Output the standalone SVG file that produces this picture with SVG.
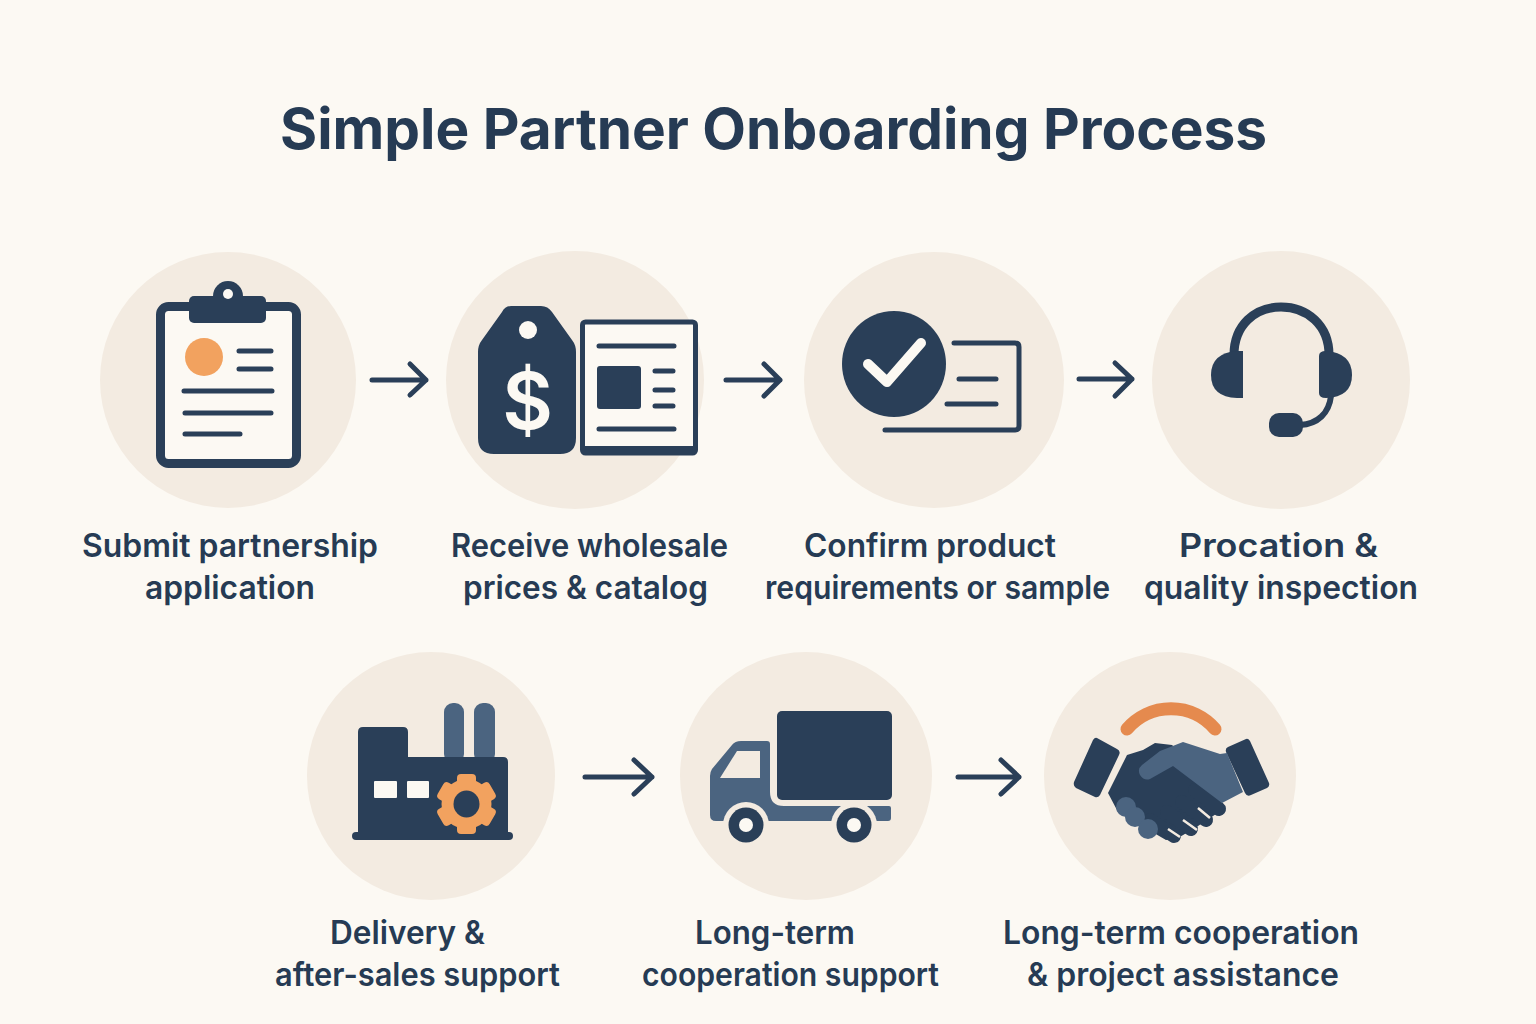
<svg xmlns="http://www.w3.org/2000/svg" width="1536" height="1024" viewBox="0 0 1536 1024">
<style>
.bg{fill:#f3ebe1}
.d{fill:#2a3f58}
.m{fill:#4b6480}
.o{fill:#f2a25f}
.c{fill:#fcf9f3}
.ln{fill:none;stroke:#2a3f58;stroke-width:5;stroke-linecap:round;stroke-linejoin:round}
.arrow{fill:none;stroke:#2a3f58;stroke-width:5;stroke-linecap:round;stroke-linejoin:round}
.t{font-family:Inter,"Liberation Sans",sans-serif;font-size:32px;font-weight:600;fill:#263b54}
.title{font-family:Inter,"Liberation Sans",sans-serif;font-size:56px;font-weight:700;fill:#263b54}
</style>
<rect width="1536" height="1024" fill="#fcf9f3"/>
<text id="title" class="title" x="280" y="149" textLength="987" lengthAdjust="spacingAndGlyphs">Simple Partner Onboarding Process</text>

<g id="connectors">
<path class="arrow" d="M372 380H426M410 364L426 380L410 395"/>
<path class="arrow" d="M726 380H780M764 364L780 380L764 396"/>
<path class="arrow" d="M1079 379H1132M1115 363L1132 379L1115 396"/>
<path class="arrow" d="M585 777H652M634 760L652 777L634 794"/>
<path class="arrow" d="M958 777H1019M1001 760L1019 777L1001 794"/>
</g>

<g id="node1">
<circle class="bg" cx="228" cy="380" r="128"/>
<rect x="160.500" y="306.500" width="136" height="157" rx="8" fill="#fcf9f3" stroke="#2a3f58" stroke-width="9"/>
<circle class="d" cx="228" cy="296" r="15"/>
<rect class="d" x="189" y="296" width="77" height="27" rx="5"/>
<ellipse class="c" cx="228" cy="294" rx="5" ry="5"/>
<circle class="o" cx="204" cy="357" r="19"/>
<path class="ln" d="M239 351H271M239 369H271M184 391H272M185 413H271M185 434H240"/>
<text class="t" x="82" y="557" textLength="296" lengthAdjust="spacingAndGlyphs">Submit partnership</text>
<text class="t" x="145" y="599" textLength="170" lengthAdjust="spacingAndGlyphs">application</text>
</g>

<g id="node2">
<circle class="bg" cx="575" cy="380" r="129"/>
<path class="d" d="M511 306H541Q548 306 552 312L572 340Q576 345 576 352V438Q576 454 560 454H494Q478 454 478 438V352Q478 345 482 340L502 312Q505 306 511 306Z"/>
<circle class="c" cx="528" cy="330" r="9"/>
<text x="527.500" y="429" text-anchor="middle" style="font-family:Inter,'Liberation Sans',sans-serif;font-size:78px;font-weight:600" fill="#fcf9f3">$</text>
<rect x="582.500" y="322" width="113" height="131" rx="3" fill="#fcf9f3" stroke="#2a3f58" stroke-width="5"/>
<path d="M695 330V452" stroke="#2a3f58" stroke-width="4" fill="none"/>
<rect x="583" y="446" width="113" height="8" class="d"/>
<path class="ln" d="M599 346H674M655 371H673M655 390H673M655 406H673M599 429H674"/>
<rect class="d" x="597" y="366" width="44" height="43" rx="3"/>
<text class="t" x="451" y="557" textLength="277" lengthAdjust="spacingAndGlyphs">Receive wholesale</text>
<text class="t" x="463" y="599" textLength="245" lengthAdjust="spacingAndGlyphs">prices &amp; catalog</text>
</g>

<g id="node3">
<ellipse class="bg" cx="934" cy="380" rx="130" ry="128"/>
<ellipse class="d" cx="894" cy="364" rx="52" ry="53"/>
<path d="M868 364L887 382L921 343" fill="none" stroke="#fcf9f3" stroke-width="10" stroke-linecap="round" stroke-linejoin="round"/>
<path class="ln" d="M954 343H1015Q1019 343 1019 347V426Q1019 430 1015 430H885M959 379H996M947 404H996"/>
<text class="t" x="804" y="557" textLength="252" lengthAdjust="spacingAndGlyphs">Confirm product</text>
<text class="t" x="765" y="599" textLength="345" lengthAdjust="spacingAndGlyphs">requirements or sample</text>
</g>

<g id="node4">
<circle class="bg" cx="1281" cy="380" r="129"/>
<path d="M1234 355C1234 325 1255 307 1281 307C1307 307 1329 325 1329 355" fill="none" stroke="#2a3f58" stroke-width="9"/>
<path d="M1237 351H1243V398H1237Q1211 397 1211 375Q1211 353 1237 351Z" class="d"/>
<path d="M1319 356Q1319 351 1326 351Q1352 353 1352 375Q1352 397 1326 398Q1319 398 1319 393Z" class="d"/>
<path d="M1331 396C1329 413 1318 424 1300 425" fill="none" stroke="#2a3f58" stroke-width="6"/>
<rect class="d" x="1269" y="413" width="34" height="24" rx="10"/>
<text class="t" x="1179" y="557" textLength="199" lengthAdjust="spacingAndGlyphs">Procation &amp;</text>
<text class="t" x="1144" y="599" textLength="274" lengthAdjust="spacingAndGlyphs">quality inspection</text>
</g>

<g id="node5">
<ellipse class="bg" cx="431" cy="776" rx="124" ry="124"/>
<rect class="m" x="444" y="703" width="20" height="60" rx="9"/>
<rect class="m" x="474" y="703" width="21" height="60" rx="9"/>
<path class="d" d="M358 840V732Q358 727 363 727H403Q408 727 408 732V757H503Q508 757 508 762V840Z"/>
<rect class="d" x="352" y="832" width="161" height="8" rx="4"/>
<rect class="c" x="374" y="781" width="23" height="17" rx="1"/>
<rect class="c" x="407" y="781" width="22" height="17" rx="1"/>
<g class="o">
<circle cx="466.500" cy="804" r="25"/>
<rect x="457" y="774" width="19" height="60" rx="4"/>
<rect x="457" y="774" width="19" height="60" rx="4" transform="rotate(60 466.500 804)"/>
<rect x="457" y="774" width="19" height="60" rx="4" transform="rotate(120 466.500 804)"/>
</g>
<ellipse class="d" cx="466.500" cy="804" rx="13" ry="13.500"/>
<text class="t" x="330" y="944" textLength="155" lengthAdjust="spacingAndGlyphs">Delivery &amp;</text>
<text class="t" x="275" y="986" textLength="285" lengthAdjust="spacingAndGlyphs">after-sales support</text>
</g>

<g id="node6">
<ellipse class="bg" cx="806" cy="776" rx="126" ry="124"/>
<path class="m" d="M710 776Q710 772 712 769L732 745Q735 741 741 741H767Q770 741 770 744V792Q770 806 784 806H889Q891 806 891 808V818Q891 821 888 821H716Q710 821 710 815Z"/>
<path fill="#f3ebe1" d="M737 751H760V778H720Z"/>
<rect class="d" x="777" y="711" width="115" height="89" rx="5"/>
<circle class="bg" cx="746" cy="825" r="23"/>
<circle class="bg" cx="854" cy="825" r="23"/>
<circle class="d" cx="746" cy="825" r="17.500"/>
<circle class="d" cx="854" cy="825" r="17.500"/>
<circle class="c" cx="746" cy="825" r="7"/>
<circle class="c" cx="854" cy="825" r="7"/>
<text class="t" x="695" y="944" textLength="160" lengthAdjust="spacingAndGlyphs">Long-term</text>
<text class="t" x="642" y="986" textLength="297" lengthAdjust="spacingAndGlyphs">cooperation support</text>
</g>

<g id="node7">
<ellipse class="bg" cx="1170" cy="776" rx="126" ry="124"/>
<path d="M1127 729A58 58 0 0 1 1215 729" fill="none" stroke="#e58a4e" stroke-width="13" stroke-linecap="round"/>
<path class="d" d="M1097 738Q1095 737 1093 740L1074 782Q1073 786 1076 788L1095 797Q1098 798 1100 795L1119 755Q1121 751 1117 749Z"/>
<path class="d" d="M1228 747L1246 739Q1248 738 1250 741L1269 783Q1270 786 1267 788L1251 795Q1247 797 1245 793L1226 752Q1225 748 1228 747Z"/>
<path class="d" d="M1127 755L1143 750L1155 743L1172 745L1200 770L1225 808L1210 818L1195 828L1178 838L1166 840L1118 812L1108 793Z"/>
<g fill="none" stroke="#2a3f58" stroke-width="14" stroke-linecap="round">
<path d="M1195 790L1219 809"/>
<path d="M1182 802L1206 820"/>
<path d="M1167 812L1191 829"/>
<path d="M1150 820L1174 836"/>
</g>
<path stroke="#f3ebe1" stroke-width="2.500" fill="none" d="M1198 808L1210 818M1183 820L1197 830M1168 829L1180 837"/>
<path class="m" d="M1183 742L1220 754L1227 753L1243 792L1222 803L1173 766L1150 779Q1144 781 1140 775Q1137 769 1142 765L1160 751Z"/>
<circle class="m" cx="1126" cy="807" r="10"/>
<circle class="m" cx="1135" cy="817" r="10"/>
<circle class="m" cx="1148" cy="829" r="10"/>
<text class="t" x="1003" y="944" textLength="356" lengthAdjust="spacingAndGlyphs">Long-term cooperation</text>
<text class="t" x="1027" y="986" textLength="312" lengthAdjust="spacingAndGlyphs">&amp; project assistance</text>
</g>
</svg>
